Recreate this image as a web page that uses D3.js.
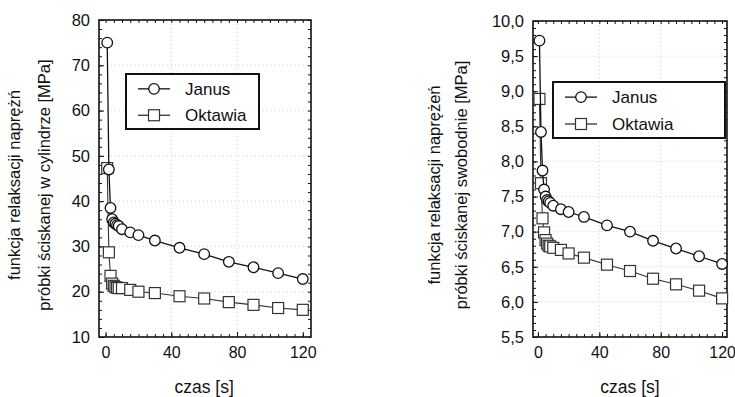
<!DOCTYPE html>
<html>
<head>
<meta charset="utf-8">
<script src="https://cdn.jsdelivr.net/npm/d3@7"></script>
<style>
  body { margin: 0; background: #fff; }
  svg text { font-family: "Liberation Sans", Arial, sans-serif; fill: #111; }
</style>
</head>
<body>
<svg id="chart" width="735" height="397"></svg>
<script>
// czas [s] - wspolny dla obu wykresow
const czas = [1, 2, 3, 4, 5, 6, 7, 8, 10, 15, 20, 30, 45, 60, 75, 90, 105, 120];

// wykres lewy - w cylindrze
const cylJanus   = [75, 47, 38.5, 36, 35.3, 35, 34.7, 34.5, 33.8, 33.1, 32.5, 31.3, 29.7, 28.3, 26.6, 25.4, 24.1, 22.8];
const cylOktawia = [47.3, 28.7, 23.5, 21.8, 21.3, 21.0, 20.9, 20.8, 20.8, 20.4, 20.0, 19.7, 19.0, 18.5, 17.7, 17.1, 16.4, 16.0];

// wykres prawy - swobodnie
const swbJanus   = [9.72, 8.42, 7.87, 7.6, 7.5, 7.45, 7.43, 7.41, 7.37, 7.32, 7.28, 7.21, 7.09, 7.0, 6.87, 6.76, 6.65, 6.54];
const swbOktawia = [8.89, 7.69, 7.19, 6.99, 6.88, 6.83, 6.8, 6.79, 6.77, 6.74, 6.69, 6.63, 6.53, 6.44, 6.33, 6.25, 6.16, 6.05];

const xTicks = [0, 40, 80, 120];
const cylTicks = [10, 20, 30, 40, 50, 60, 70, 80];
const swbTicks = [5.5, 6.0, 6.5, 7.0, 7.5, 8.0, 8.5, 9.0, 9.5, 10.0];

const seriesNames = ["Janus", "Oktawia"];
const title1 = "funkcja relaksacji naprężń";
const title1b = "funkcja relaksacji naprężeń";
const cylTitle2 = "próbki ściskanej w cylindrze [MPa]";
const swbTitle2 = "próbki ściskanej swobodnie [MPa]";
const xTitle = "czas [s]";

const svg = d3.select("#chart");

function drawPanel(cfg) {
  const x = d3.scaleLinear().domain(cfg.xDomain).range([cfg.left, cfg.right]);
  const y = d3.scaleLinear().domain(cfg.yDomain).range([cfg.bottom, cfg.top]);
  const g = svg.append("g");

  // siatka (kropkowana, bardzo jasna)
  g.selectAll(".gx").data(xTicks.slice(1, -1)).enter().append("line")
    .attr("x1", d => x(d)).attr("x2", d => x(d))
    .attr("y1", cfg.top).attr("y2", cfg.bottom)
    .style("stroke", "#cfcfcf").style("stroke-dasharray", "1,3");
  g.selectAll(".gy").data(cfg.yTicks.slice(1, -1)).enter().append("line")
    .attr("x1", cfg.left).attr("x2", cfg.right)
    .attr("y1", d => y(d)).attr("y2", d => y(d))
    .style("stroke", "#cfcfcf").style("stroke-dasharray", "1,3");

  // osie - ticki do srodka na wszystkich bokach
  const xMinor = d3.range(0, 121, 5);
  const yMinor = d3.range(cfg.yDomain[0], cfg.yDomain[1] + 1e-9, cfg.yMinorStep);

  const axB = d3.axisBottom(x).tickValues(xTicks).tickSize(-5).tickPadding(10).tickFormat(d3.format("d"));
  const axL = d3.axisLeft(y).tickValues(cfg.yTicks).tickSize(-5).tickPadding(9).tickFormat(cfg.yFormat);

  const minor = (axis, scale, vals) => axis(scale).tickValues(vals).tickSize(-3).tickFormat("");

  [[d3.axisBottom, x, xMinor, `translate(0,${cfg.bottom})`],
   [d3.axisTop, x, xMinor, `translate(0,${cfg.top})`],
   [d3.axisLeft, y, yMinor, `translate(${cfg.left},0)`],
   [d3.axisRight, y, yMinor, `translate(${cfg.right},0)`]].forEach(([a, s, v, t]) => {
    g.append("g").attr("transform", t).call(minor(a, s, v))
      .call(gg => gg.select(".domain").remove())
      .selectAll("line").style("stroke", "#111");
  });

  g.append("g").attr("transform", `translate(0,${cfg.bottom})`).call(axB)
    .call(gg => gg.select(".domain").remove())
    .selectAll("text").style("font-size", "16px");
  g.append("g").attr("transform", `translate(${cfg.left},0)`).call(axL)
    .call(gg => gg.select(".domain").remove())
    .selectAll("text").style("font-size", "16.5px");
  g.selectAll(".tick line").style("stroke", "#111");

  g.append("rect")
    .attr("x", cfg.left).attr("y", cfg.top)
    .attr("width", cfg.right - cfg.left).attr("height", cfg.bottom - cfg.top)
    .style("fill", "none").style("stroke", "#111").style("stroke-width", 1.6);

  // serie
  const line = d3.line().x(d => x(d[0])).y(d => y(d[1]));
  const janus = czas.map((t, i) => [t, cfg.janus[i]]);
  const okt = czas.map((t, i) => [t, cfg.oktawia[i]]);

  g.append("path").datum(okt).attr("d", line)
    .style("fill", "none").style("stroke", "#333").style("stroke-width", 1.1);
  g.selectAll(".okt").data(okt).enter().append("rect")
    .attr("x", d => x(d[0]) - 5.5).attr("y", d => y(d[1]) - 5.5)
    .attr("width", 11).attr("height", 11)
    .style("fill", "#fff").style("stroke", "#333").style("stroke-width", 1.2);

  g.append("path").datum(janus).attr("d", line)
    .style("fill", "none").style("stroke", "#111").style("stroke-width", 1.3);
  g.selectAll(".jan").data(janus).enter().append("circle")
    .attr("cx", d => x(d[0])).attr("cy", d => y(d[1])).attr("r", 5.3)
    .style("fill", "#fff").style("stroke", "#111").style("stroke-width", 1.3);

  // legenda
  const lg = g.append("g");
  lg.append("rect")
    .attr("x", cfg.legend.x).attr("y", cfg.legend.y)
    .attr("width", cfg.legend.w).attr("height", cfg.legend.h)
    .style("fill", "#fff").style("stroke", "#111").style("stroke-width", 2);
  seriesNames.forEach((name, i) => {
    const ly = cfg.legend.y + cfg.legend.h * (i === 0 ? 0.27 : 0.75);
    const lx = cfg.legend.x + 12;
    lg.append("line").attr("x1", lx).attr("x2", lx + 32).attr("y1", ly).attr("y2", ly)
      .style("stroke", i === 0 ? "#111" : "#333").style("stroke-width", 1.3);
    if (i === 0) {
      lg.append("circle").attr("cx", lx + 16).attr("cy", ly).attr("r", 5.3)
        .style("fill", "#fff").style("stroke", "#111").style("stroke-width", 1.3);
    } else {
      lg.append("rect").attr("x", lx + 10.5).attr("y", ly - 5.5).attr("width", 11).attr("height", 11)
        .style("fill", "#fff").style("stroke", "#333").style("stroke-width", 1.2);
    }
    lg.append("text").attr("x", lx + 47).attr("y", ly + 6)
      .style("font-size", "17px").text(name);
  });

  // tytuly osi
  const cy = 185;
  g.append("text").attr("transform", `translate(${cfg.t1x},${cy}) rotate(-90)`)
    .attr("text-anchor", "middle").style("font-size", "16.5px").text(cfg.title1);
  g.append("text").attr("transform", `translate(${cfg.t2x},${cy}) rotate(-90)`)
    .attr("text-anchor", "middle").style("font-size", "16.5px").text(cfg.title2);
  g.append("text").attr("x", x(60)).attr("y", 393)
    .attr("text-anchor", "middle").style("font-size", "17.5px").text(xTitle);
}

drawPanel({
  xDomain: [-4, 125], yDomain: [10, 80],
  left: 99, right: 311, top: 20, bottom: 337,
  yTicks: cylTicks, yMinorStep: 2, yFormat: d3.format("d"),
  janus: cylJanus, oktawia: cylOktawia,
  legend: { x: 126, y: 74, w: 133, h: 55 },
  t1x: 20, t2x: 50, title1: title1, title2: cylTitle2
});

const commaFmt = d => d3.format(".1f")(d).replace(".", ",");
drawPanel({
  xDomain: [-3.2, 123.2], yDomain: [5.5, 10],
  left: 533, right: 727, top: 21, bottom: 337,
  yTicks: swbTicks, yMinorStep: 0.1, yFormat: commaFmt,
  janus: swbJanus, oktawia: swbOktawia,
  legend: { x: 553, y: 82, w: 172, h: 56 },
  t1x: 440, t2x: 467, title1: title1b, title2: swbTitle2
});
</script>
</body>
</html>
